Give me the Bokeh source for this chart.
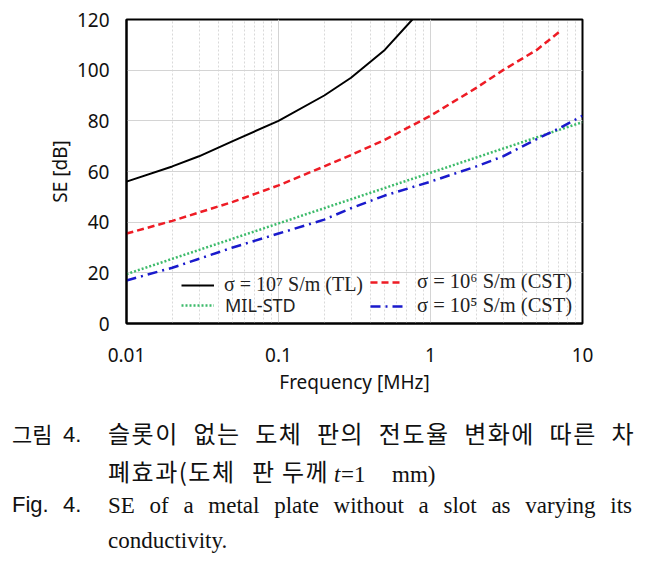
from bokeh.plotting import figure
from bokeh.models import FixedTicker, Legend, LegendItem, Range1d, Div
from bokeh.layouts import column
from bokeh.embed import file_html
from bokeh.resources import INLINE

# ---------------- data ----------------
freq_tl = [0.01, 0.02, 0.03, 0.05, 0.1, 0.2, 0.3, 0.5, 0.76]
se_tl = [56, 62, 66, 72, 80, 90, 97, 108, 120]

freq_1e6 = [0.01, 0.02, 0.05, 0.1, 0.2, 0.3, 0.5, 1, 2, 3, 5, 7]
se_1e6 = [35.5, 40.5, 48, 54.5, 62, 66.5, 72.5, 82, 93, 100, 108, 115]

freq_mil = [0.01, 0.1, 1, 10]
se_mil = [19.5, 39.5, 59.5, 79.5]

freq_1e5 = [0.01, 0.02, 0.05, 0.1, 0.2, 0.3, 0.5, 1, 2, 3, 5, 7, 10]
se_1e5 = [17, 22, 30, 35.5, 41, 45.5, 50.5, 56, 62, 66, 72.8, 77, 82]

x_ticks = [0.01, 0.1, 1, 10]
x_tick_labels = ["0.01", "0.1", "1", "10"]
x_minor = [k * d for d in [0.01, 0.1, 1] for k in range(2, 10)]
y_ticks = [0, 20, 40, 60, 80, 100, 120]

labels = ["σ = 10⁷ S/m (TL)", "σ = 10⁶ S/m (CST)", "MIL-STD", "σ = 10⁵ S/m (CST)"]

SANS = "Noto Sans"
SERIF = "Liberation Serif"
CJK = "Noto Sans CJK KR"
NARROW = "Liberation Sans"
INK = "#111111"

# ---------------- main chart ----------------
p = figure(width=635, height=392, x_axis_type="log",
           x_range=Range1d(0.01, 10), y_range=Range1d(0, 120),
           toolbar_location=None, output_backend="svg",
           min_border_left=118, min_border_right=61,
           min_border_top=11, min_border_bottom=77)
p.background_fill_color = "white"
p.border_fill_color = "white"
p.outline_line_color = "black"
p.outline_line_width = 2

p.xaxis.ticker = FixedTicker(ticks=x_ticks, minor_ticks=x_minor)
p.xaxis.major_label_overrides = {t: l for t, l in zip(x_ticks, x_tick_labels)}
p.yaxis.ticker = FixedTicker(ticks=y_ticks)

for ax in (p.xaxis, p.yaxis):
    ax.axis_line_color = "black"
    ax.axis_line_width = 2
    ax.major_tick_out = 0
    ax.major_tick_in = 0
    ax.minor_tick_out = 0
    ax.minor_tick_in = 0
    ax.major_label_text_font = SANS
    ax.major_label_text_font_size = "19px"
    ax.major_label_text_color = INK
    ax.axis_label_text_font = SANS
    ax.axis_label_text_font_size = "19px"
    ax.axis_label_text_font_style = "normal"
    ax.axis_label_text_color = INK

p.xaxis.axis_label = "Frequency [MHz]"
p.yaxis.axis_label = "SE [dB]"
p.xaxis.major_label_standoff = 24
p.yaxis.major_label_standoff = 17
p.xaxis.axis_label_standoff = 4
p.yaxis.axis_label_standoff = 1

p.xgrid.grid_line_color = "#d4d4d4"
p.ygrid.grid_line_color = "#d4d4d4"
p.xgrid.minor_grid_line_color = "#d9d9d9"
p.xgrid.minor_grid_line_dash = "2 2"

r_tl = p.line(freq_tl, se_tl, line_color="black", line_width=2)
r_1e6 = p.line(freq_1e6, se_1e6, line_color="#ee1c25", line_width=2.5, line_dash="7 4")
r_mil = p.line(freq_mil, se_mil, line_color="#3dbb6b", line_width=2.5, line_dash="2 2")
r_1e5 = p.line(freq_1e5, se_1e5, line_color="#1a1acc", line_width=2.5, line_dash="10 5 2 5")


def make_legend(label, rend, loc, font, size, standoff):
    return Legend(items=[LegendItem(label=label, renderers=[rend])], location=loc,
                  padding=0, margin=0, spacing=0, glyph_width=33, glyph_height=20,
                  label_height=20, label_standoff=standoff,
                  label_text_font=font, label_text_font_size=size,
                  label_text_color="#222222",
                  background_fill_alpha=0, border_line_alpha=0)


p.add_layout(make_legend(labels[0], r_tl, (55, 27), SERIF, "20px", 10))
p.add_layout(make_legend(labels[2], r_mil, (55, 6), SANS, "18px", 11))
p.add_layout(make_legend(labels[1], r_1e6, (244, 30), SERIF, "20.5px", 14))
p.add_layout(make_legend(labels[3], r_1e5, (244, 6), SERIF, "20.5px", 14))

# ---------------- caption (HTML block under the chart) ----------------
parts = []


def cap_text(txt, left, top, font, size, style="normal", width=None, spacing=0.0):
    if width is not None:
        extra = f"width:{width}px;text-align:justify;text-align-last:justify;"
    else:
        extra = "white-space:nowrap;"
    parts.append(
        f'<div style="position:absolute;left:{left:.1f}px;top:{top:.1f}px;'
        f"font-family:'{font}';font-size:{size};font-style:{style};"
        f"letter-spacing:{spacing}px;"
        f'line-height:1;margin:0;padding:0;color:{INK};{extra}">{txt}</div>')


# line 1
cap_text("그림", 4, 22, CJK, "22px")
cap_text("4.", 55, 24.4, NARROW, "22px")
cap_text("슬롯이 없는 도체 판의 전도율 변화에 따른 차", 100, 20.7, CJK, "24px",
         width=527, spacing=1.5)

# line 2
cap_text("폐효과(도체", 100, 58.7, CJK, "24px", spacing=1.5)
cap_text("판", 244, 58.7, CJK, "24px")
cap_text("두께", 274, 58.7, CJK, "24px", spacing=1.5)
cap_text("t", 326, 62.7, SERIF, "23px", "italic")
cap_text("=1", 333, 62.7, SERIF, "23px")
cap_text("mm)", 384, 62.7, SERIF, "23px")

# line 3
cap_text("Fig.", 4, 94.4, NARROW, "22px")
cap_text("4.", 55, 94.4, NARROW, "22px")
cap_text("SE of a metal plate without a slot as varying its", 100, 93.7, SERIF, "23px",
         width=524)

# line 4
cap_text("conductivity.", 100, 128.7, SERIF, "23px")

html = ('<div style="position:relative;width:635px;height:156px;background:white;">'
        + "".join(parts) + "</div>")
caption = Div(text=html, width=635, height=156, margin=0)

layout = column(p, caption, spacing=0, margin=(8, 8, 0, 8))
open("out.html", "w").write(file_html(layout, INLINE))
